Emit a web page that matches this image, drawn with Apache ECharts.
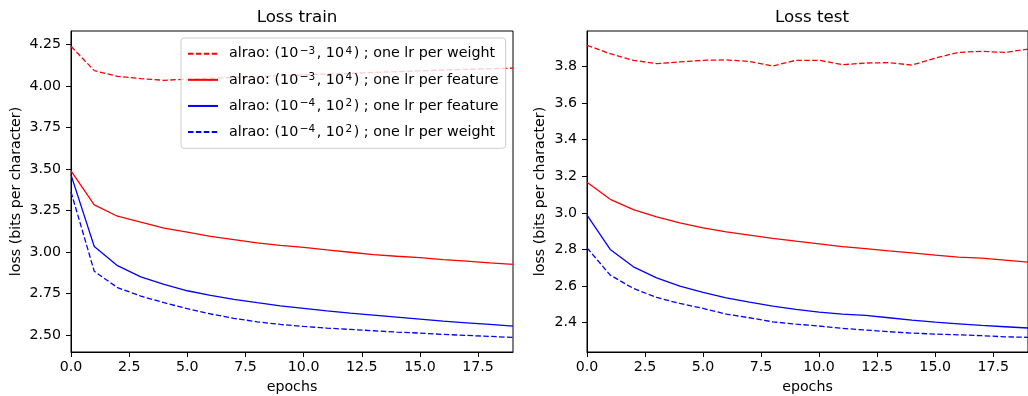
<!DOCTYPE html>
<html>
<head>
<meta charset="utf-8">
<script src="https://cdn.jsdelivr.net/npm/echarts@6/dist/echarts.min.js"></script>
<style>
  html, body { margin: 0; padding: 0; background: #fff; }
  #chart { width: 1028px; height: 396px; }
</style>
</head>
<body>
<div id="chart"></div>
<script>
// Epoch index shared by every curve
const epochs = [0, 1, 2, 3, 4, 5, 6, 7, 8, 9, 10, 11, 12, 13, 14, 15, 16, 17, 18, 19];

// Training loss (bits per character)
const trainHiWeight = [4.24, 4.093, 4.059, 4.045, 4.035, 4.042, 4.047, 4.052, 4.057, 4.062, 4.067, 4.072, 4.077, 4.082, 4.087, 4.092, 4.097, 4.101, 4.105, 4.108];
const trainHiFeature = [3.489, 3.284, 3.216, 3.18, 3.145, 3.12, 3.095, 3.075, 3.055, 3.04, 3.028, 3.013, 2.999, 2.985, 2.975, 2.966, 2.955, 2.945, 2.935, 2.926];
const trainLoFeature = [3.465, 3.034, 2.918, 2.851, 2.805, 2.767, 2.739, 2.715, 2.695, 2.676, 2.661, 2.646, 2.632, 2.62, 2.608, 2.596, 2.584, 2.574, 2.564, 2.554];
const trainLoWeight = [3.363, 2.884, 2.786, 2.735, 2.695, 2.659, 2.627, 2.601, 2.58, 2.564, 2.552, 2.542, 2.534, 2.526, 2.518, 2.512, 2.504, 2.498, 2.492, 2.486];

// Test loss (bits per character)
const testHiWeight = [3.915, 3.869, 3.833, 3.815, 3.824, 3.833, 3.835, 3.827, 3.802, 3.833, 3.833, 3.809, 3.818, 3.82, 3.807, 3.845, 3.876, 3.882, 3.876, 3.894];
const testHiFeature = [3.167, 3.074, 3.018, 2.978, 2.945, 2.918, 2.896, 2.878, 2.86, 2.845, 2.831, 2.816, 2.805, 2.792, 2.781, 2.769, 2.758, 2.753, 2.742, 2.731];
const testLoFeature = [2.987, 2.8, 2.705, 2.645, 2.6, 2.565, 2.536, 2.512, 2.491, 2.473, 2.458, 2.447, 2.44, 2.427, 2.414, 2.403, 2.394, 2.385, 2.378, 2.371];
const testLoWeight = [2.809, 2.66, 2.587, 2.538, 2.505, 2.478, 2.447, 2.427, 2.405, 2.392, 2.382, 2.369, 2.36, 2.351, 2.343, 2.338, 2.334, 2.329, 2.323, 2.32];

// Tick labels
const xTicks = [0, 2.5, 5, 7.5, 10, 12.5, 15, 17.5];
const yTicksTrain = [2.5, 2.75, 3.0, 3.25, 3.5, 3.75, 4.0, 4.25];
const yTicksTest = [2.4, 2.6, 2.8, 3.0, 3.2, 3.4, 3.6, 3.8];

// Series names (rich text keys mark the superscripts)
const names = [
  'alrao: (10{sup|−3}, 10{sup|4}) ; one lr per weight',
  'alrao: (10{sup|−3}, 10{sup|4}) ; one lr per feature',
  'alrao: (10{sup|−4}, 10{sup|2}) ; one lr per feature',
  'alrao: (10{sup|−4}, 10{sup|2}) ; one lr per weight'
];

const FONT = 'DejaVu Sans';
const FS = 14.2;
const RED = '#ff0000';
const BLUE = '#0000ff';
const DASH = [5.5, 2.4];

function pairs(ys) { return epochs.map((e, i) => [e, ys[i]]); }

function line(name, ys, color, dashed, idx) {
  return {
    type: 'line',
    name: name,
    xAxisIndex: idx,
    yAxisIndex: idx,
    data: pairs(ys),
    symbol: 'none',
    showSymbol: false,
    animation: false,
    lineStyle: { color: color, width: 1.3, type: dashed ? DASH : 'solid' },
    itemStyle: { color: color }
  };
}

function xAxis(idx) {
  return {
    type: 'value',
    gridIndex: idx,
    min: 0, max: 19,
    name: 'epochs',
    nameLocation: 'middle',
    nameGap: 28,
    nameTextStyle: { fontFamily: FONT, fontSize: FS, color: '#000' },
    axisLine: { show: true, onZero: false, lineStyle: { color: '#000', width: 1 } },
    axisTick: { show: true, inside: false, length: 5, customValues: xTicks, lineStyle: { color: '#000', width: 1 } },
    axisLabel: { customValues: xTicks, margin: 8, fontFamily: FONT, fontSize: FS, color: '#000',
                 formatter: v => v.toFixed(1) },
    splitLine: { show: false }
  };
}

function yAxis(idx, min, max, ticks, digits, gap) {
  return {
    type: 'value',
    gridIndex: idx,
    min: min, max: max,
    name: 'loss (bits per character)',
    nameLocation: 'middle',
    nameGap: gap,
    nameRotate: 90,
    nameTextStyle: { fontFamily: FONT, fontSize: FS, color: '#000' },
    axisLine: { show: true, onZero: false, lineStyle: { color: '#000', width: 1 } },
    axisTick: { show: true, inside: false, length: 5, customValues: ticks, lineStyle: { color: '#000', width: 1 } },
    axisLabel: { customValues: ticks, margin: 10, fontFamily: FONT, fontSize: FS, color: '#000',
                 formatter: v => v.toFixed(digits) },
    splitLine: { show: false }
  };
}

const chart = echarts.init(document.getElementById('chart'), null, { renderer: 'canvas' });

chart.setOption({
  backgroundColor: '#fff',
  animation: false,
  title: [
    { text: 'Loss train', left: 292, top: 4, textAlign: 'center',
      textStyle: { fontFamily: FONT, fontSize: 16.7, fontWeight: 'normal', color: '#000' } },
    { text: 'Loss test', left: 807, top: 4, textAlign: 'center',
      textStyle: { fontFamily: FONT, fontSize: 16.7, fontWeight: 'normal', color: '#000' } }
  ],
  grid: [
    { left: 71, top: 31, width: 442, height: 321, outerBoundsMode: 'none', containLabel: false,
      show: true, borderColor: '#000', borderWidth: 1, backgroundColor: 'transparent' },
    { left: 587, top: 31, width: 441, height: 321, outerBoundsMode: 'none', containLabel: false,
      show: true, borderColor: '#000', borderWidth: 1, backgroundColor: 'transparent' }
  ],
  xAxis: [xAxis(0), xAxis(1)],
  yAxis: [
    yAxis(0, 2.398, 4.332, yTicksTrain, 2, 48),
    yAxis(1, 2.24, 3.993, yTicksTest, 1, 40)
  ],
  legend: {
    show: true,
    left: 181, top: 38,
    orient: 'vertical',
    data: names,
    itemWidth: 30, itemHeight: 12,
    itemGap: 9.6,
    padding: [7.5, 7, 8, 6],
    borderColor: '#cccccc', borderWidth: 1, borderRadius: 3,
    backgroundColor: 'rgba(255,255,255,0.8)',
    selectedMode: false,
    itemStyle: { opacity: 0 },
    textStyle: {
      fontFamily: FONT, fontSize: 14.3, color: '#000', lineHeight: 16.5,
      padding: [0, 0, 0, 6],
      rich: {
        sup: { fontFamily: FONT, fontSize: 10.5, color: '#000', verticalAlign: 'top', lineHeight: 16.5,
               padding: [0, 1.5, 0, 1.5] }
      }
    }
  },
  series: [
    line(names[0], trainHiWeight, RED, true, 0),
    line(names[1], trainHiFeature, RED, false, 0),
    line(names[2], trainLoFeature, BLUE, false, 0),
    line(names[3], trainLoWeight, BLUE, true, 0),
    line(names[0], testHiWeight, RED, true, 1),
    line(names[1], testHiFeature, RED, false, 1),
    line(names[2], testLoFeature, BLUE, false, 1),
    line(names[3], testLoWeight, BLUE, true, 1)
  ]
});
</script>
</body>
</html>
